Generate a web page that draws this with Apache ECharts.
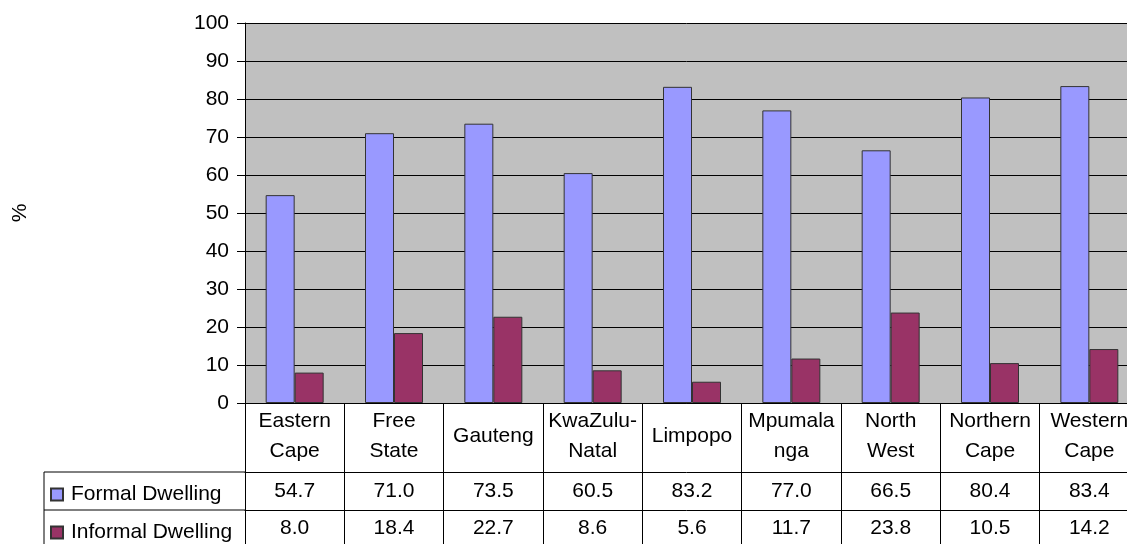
<!DOCTYPE html>
<html>
<head>
<meta charset="utf-8">
<script src="https://cdn.jsdelivr.net/npm/echarts@6/dist/echarts.min.js"></script>
<style>
  html, body { margin: 0; padding: 0; background: #fff; }
  #chart { width: 1127px; height: 544px; }
</style>
</head>
<body>
<div id="chart"></div>
<script>
// provinces (header row of the table)
const categories = ['Eastern\nCape', 'Free\nState', 'Gauteng', 'KwaZulu-\nNatal', 'Limpopo', 'Mpumala\nnga', 'North\nWest', 'Northern\nCape', 'Western\nCape'];
// % of households
const formal = [54.7, 71.0, 73.5, 60.5, 83.2, 77.0, 66.5, 80.4, 83.4];
const informal = [8.0, 18.4, 22.7, 8.6, 5.6, 11.7, 23.8, 10.5, 14.2];
const yTicks = [0, 10, 20, 30, 40, 50, 60, 70, 80, 90, 100];

const font = 'Liberation Sans, Arial, sans-serif';
const chart = echarts.init(document.getElementById('chart'));

/* extra x axes = data rows of the table under the chart */
function rowAxis(values, offset, margin) {
  return {
    type: 'category',
    data: categories,
    position: 'bottom',
    offset: offset,
    axisLine: { show: true, lineStyle: { color: '#000', width: 1 } },
    axisTick: { show: false },
    axisLabel: {
      interval: 0,
      margin: margin,
      verticalAlign: 'middle',
      color: '#000',
      fontFamily: font,
      fontSize: 21,
      formatter: function (v, i) { return values[i].toFixed(1); }
    }
  };
}

chart.setOption({
  animation: false,
  grid: {
    left: 245, top: 23, width: 894, height: 380,
    outerBoundsMode: 'none',
    show: true, backgroundColor: '#C0C0C0', borderWidth: 0
  },
  legend: [
    {
      data: ['Formal Dwelling'], left: 45, top: 479, orient: 'vertical',
      icon: 'rect', itemWidth: 12, itemHeight: 12,
      textStyle: { color: '#000', fontFamily: font, fontSize: 21, padding: [0, 0, 0, 3] }
    },
    {
      data: ['Informal Dwelling'], left: 45, top: 517, orient: 'vertical',
      icon: 'rect', itemWidth: 12, itemHeight: 12,
      textStyle: { color: '#000', fontFamily: font, fontSize: 21, padding: [0, 0, 0, 3] }
    }
  ],
  xAxis: [
    {
      type: 'category',
      data: categories,
      axisLine: { show: true, lineStyle: { color: '#000', width: 1 } },
      // long ticks at category edges make the table's column dividers
      axisTick: { show: true, alignWithLabel: false, length: 141, lineStyle: { color: '#000' } },
      axisLabel: {
        interval: 0, margin: 33, verticalAlign: 'middle',
        color: '#000', fontFamily: font, fontSize: 21, lineHeight: 30
      }
    },
    rowAxis(formal, 69, 19),
    rowAxis(informal, 107, 18)
  ],
  yAxis: {
    type: 'value',
    min: 0, max: 100, interval: 10,
    name: '%',
    nameLocation: 'middle',
    nameRotate: 90,
    nameGap: 214,
    nameTextStyle: { color: '#000', fontFamily: font, fontSize: 21 },
    axisLine: { show: true, lineStyle: { color: '#000' } },
    axisTick: { show: true, length: 8, lineStyle: { color: '#000' } },
    axisLabel: {
      margin: 16, color: '#000', fontFamily: font, fontSize: 21,
      formatter: function (v) { return yTicks.indexOf(v) >= 0 ? String(v) : ''; }
    },
    splitLine: { show: true, lineStyle: { color: '#000', width: 1 } }
  },
  series: [
    {
      name: 'Formal Dwelling', type: 'bar', data: formal,
      barWidth: 29, barGap: '0%',
      itemStyle: { color: '#9999FF', borderColor: '#333', borderWidth: 1 }
    },
    {
      name: 'Informal Dwelling', type: 'bar', data: informal,
      barWidth: 29, barGap: '0%',
      itemStyle: { color: '#993366', borderColor: '#333', borderWidth: 1 }
    }
  ],
  // left part of the table frame (legend cells)
  graphic: [
    { type: 'line', shape: { x1: 44, y1: 472, x2: 245, y2: 472 }, style: { stroke: '#000', lineWidth: 1 } },
    { type: 'line', shape: { x1: 44, y1: 510, x2: 245, y2: 510 }, style: { stroke: '#000', lineWidth: 1 } },
    { type: 'line', shape: { x1: 44, y1: 472, x2: 44, y2: 544 }, style: { stroke: '#000', lineWidth: 1 } }
  ]
});
</script>
</body>
</html>
